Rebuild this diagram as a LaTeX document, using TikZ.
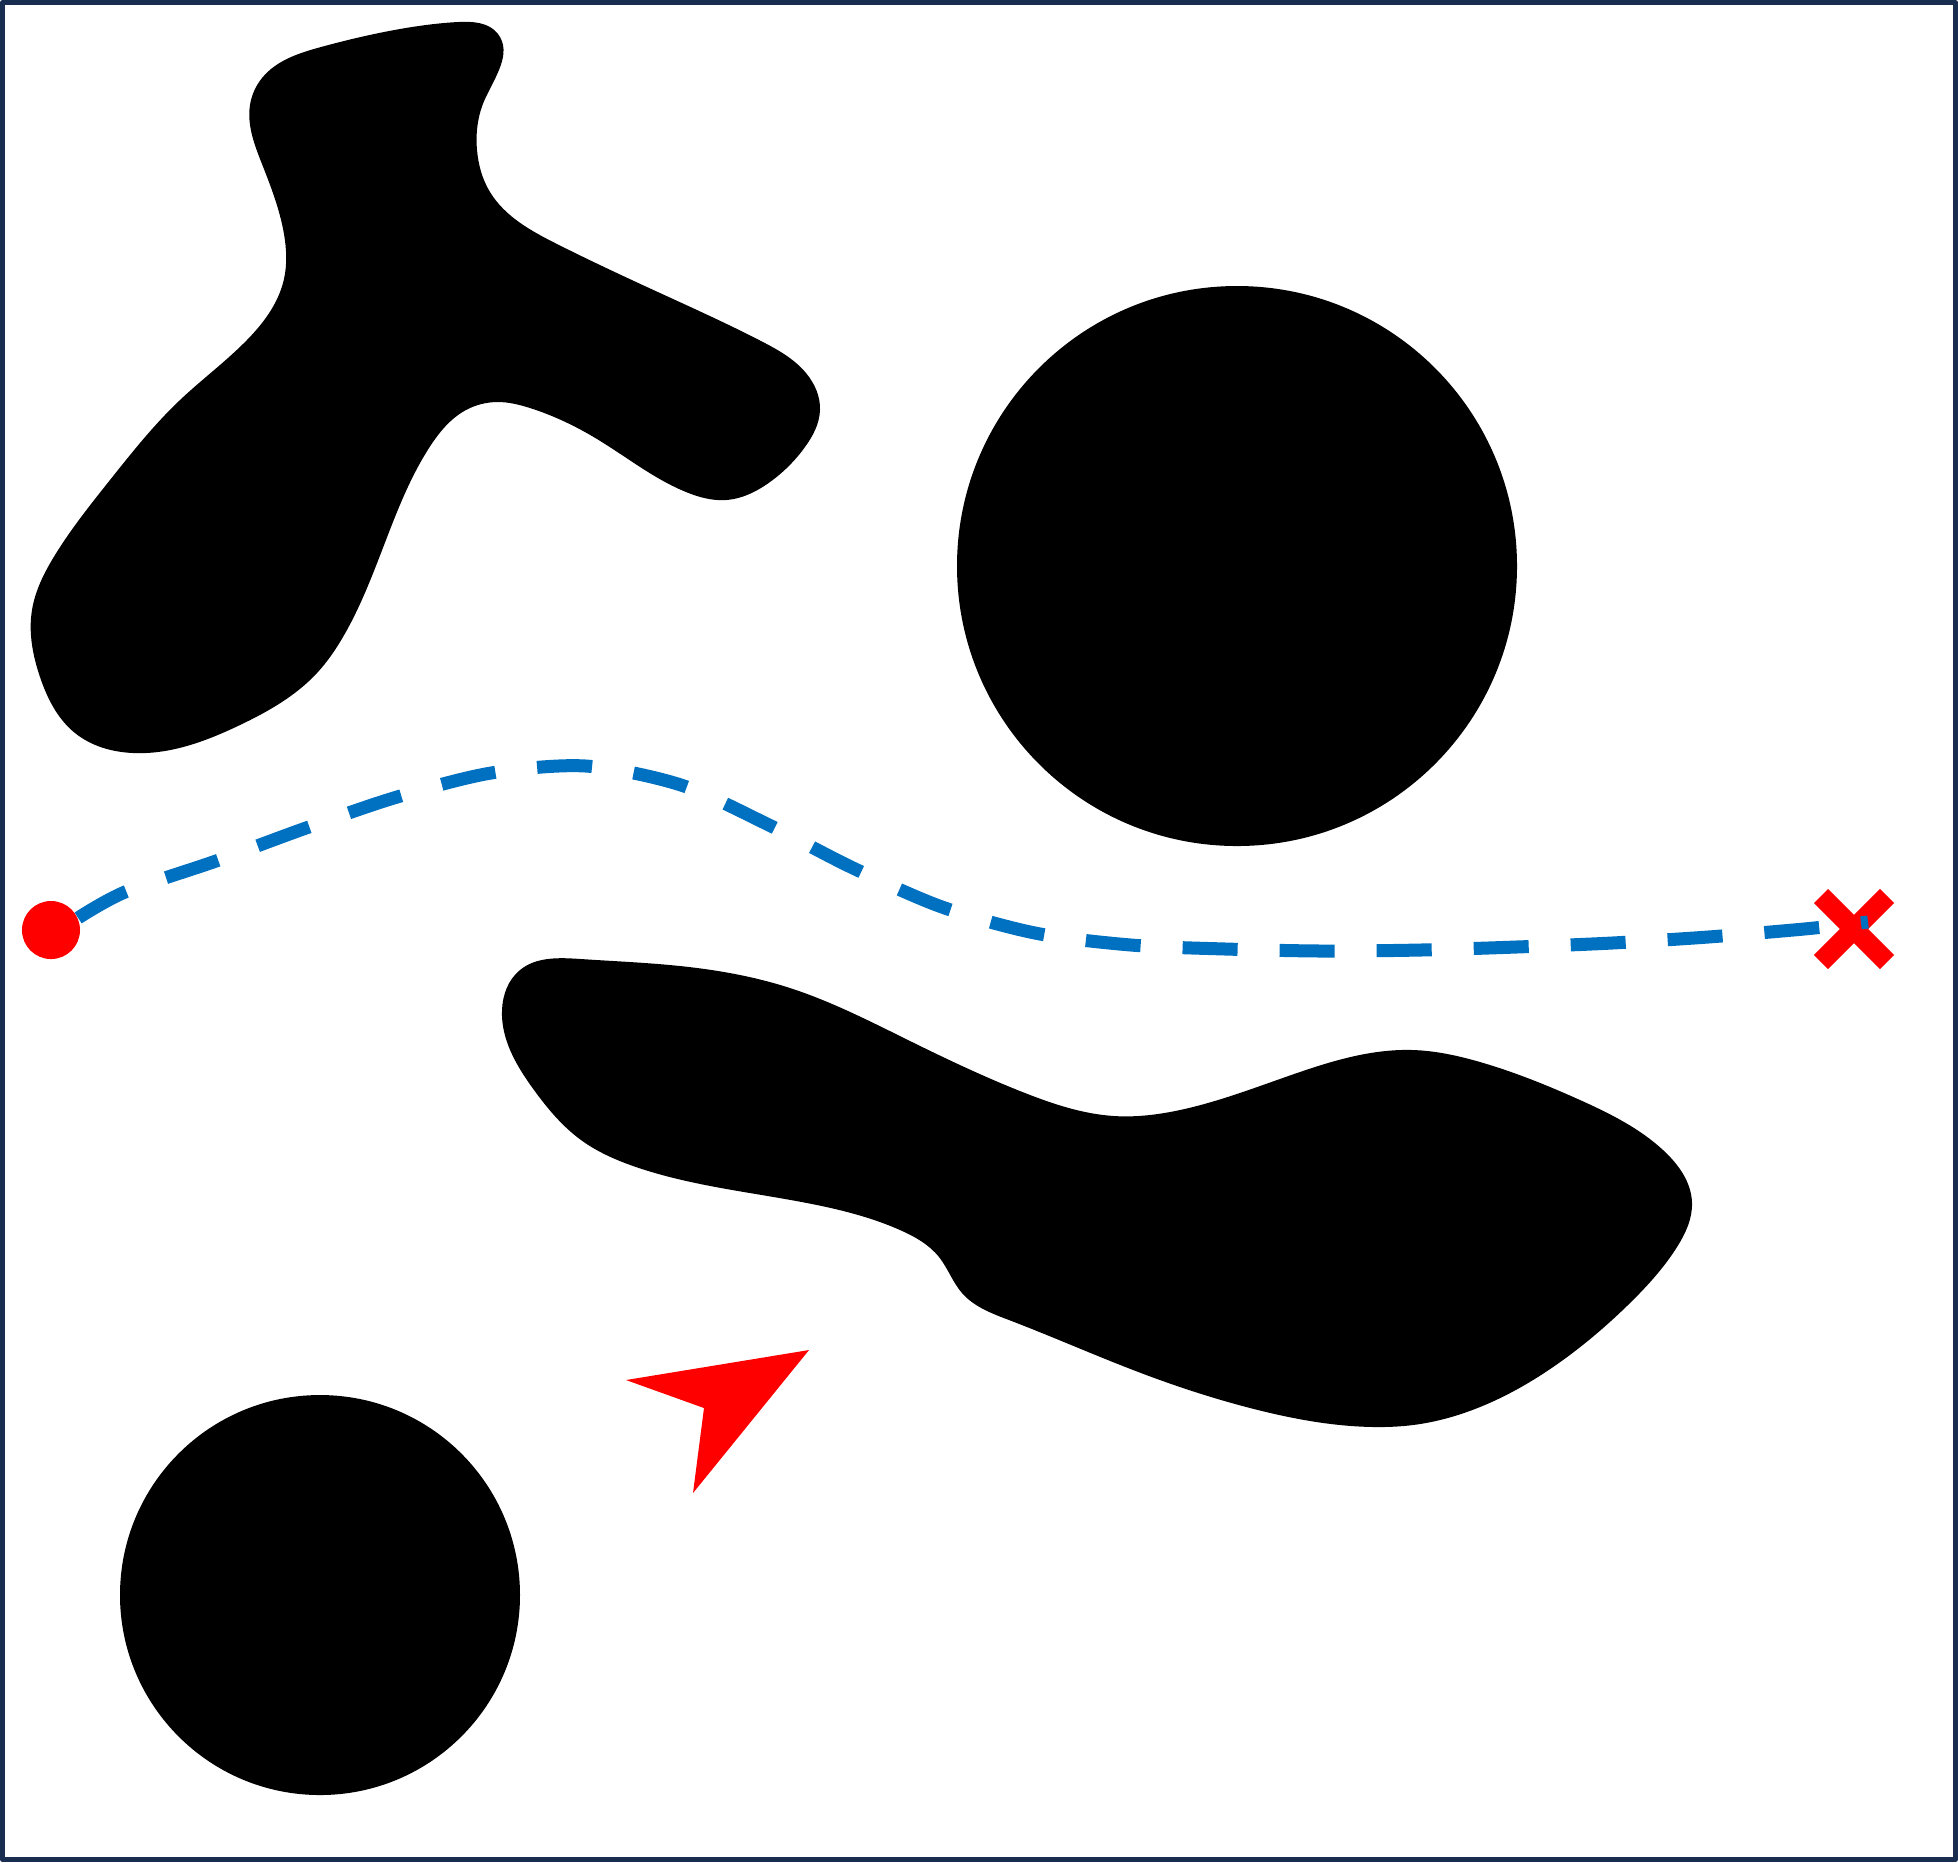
\documentclass[tikz,border=0pt]{standalone}
\usetikzlibrary{hobby}
\definecolor{framenavy}{RGB}{24,45,80}
\definecolor{routeblue}{RGB}{0,112,192}
\tikzset{
    obstacle/.style = {fill = black},
    route/.style = {draw = routeblue, line width = 0.13cm, dash pattern = on 0.55cm off 0.42cm},
    startmark/.style = {circle, fill = red, minimum size = 0.58cm, inner sep = 0pt},
    goalbox/.style = {minimum size = 0.66cm, inner sep = 0pt, outer sep = 0pt},
    goalmark/.style = {draw = red, line width = 0.2cm}
}

\begin{document}
\begin{tikzpicture}[x = 0.01cm, y = -0.01cm, line join = round]
    \useasboundingbox (0,0) rectangle (1958,1862);
    \draw[framenavy, line width = 0.05cm] (2.5,2.5) rectangle (1955.5,1859.5);

    % obstacles
    \fill[obstacle] plot[closed hobby] coordinates {(250,105) (262,78) (321,47) (400,29) (458,22) (498,34) (485,99) (477,150) (490,192) (557,244) (660,293) (761,341) (806,373) (820,410) (805,447) (770,482) (726,500) (686,492) (597,439) (530,408) (498,402) (466,410) (429,448) (391,527) (343,637) (317,673) (240,725) (133,753) (75,733) (40,677) (32,610) (55,555) (110,480) (180,400) (244,343) (284,279) (284,234) (262,164)};
    \fill[obstacle] (1237,566) circle (280);
    \fill[obstacle] plot[closed hobby] coordinates {(502,1010) (520,970) (581,959) (680,966) (790,988) (908,1040) (1025,1093) (1114,1116) (1180,1110) (1297,1073) (1413,1050) (1480,1062) (1580,1100) (1663,1150) (1692,1203) (1677,1247) (1630,1303) (1563,1360) (1480,1407) (1413,1425) (1375,1427) (1258,1410) (1141,1373) (1009,1320) (962,1293) (939,1257) (900,1230) (807,1203) (636,1167) (581,1140) (534,1090)};
    \fill[obstacle] (320,1595) circle (200);

    % heading marker
    \fill[red] (809,1350) -- (626,1380) -- (704,1408) -- (693,1493) -- cycle;

    % start, goal and route
    \node[startmark] (start) at (51,930) {};
    \node[goalbox] (goal) at (1854,929) {};
    \draw[goalmark] (goal.north west) -- (goal.south east) (goal.north east) -- (goal.south west);
    \coordinate (routeend) at (1868,922);
    \draw[route] plot[smooth] coordinates {(start.24) (125,892) (216,861) (306,828) (397,797) (491,773) (586,766) (681,785) (769,825) (853,868) (942,907) (1035,933) (1131,945) (1226,949) (1323,951) (1420,950) (1516,947) (1612,943) (1708,937) (1804,929) (routeend)};

\end{tikzpicture}
\end{document}
